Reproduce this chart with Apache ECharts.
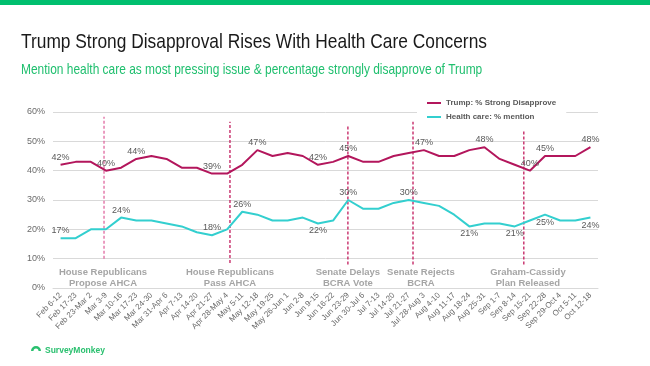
<!DOCTYPE html>
<html>
<head>
<meta charset="utf-8">
<script src="https://cdn.jsdelivr.net/npm/echarts@6/dist/echarts.min.js"></script>
<style>html,body{margin:0;padding:0;background:#fff}#c{width:650px;height:366px}</style>
</head>
<body>
<div id="c"></div>
<script>
var categories = ['Feb 6-12','Feb 17-23','Feb 23-Mar 2','Mar 3-9','Mar 10-16','Mar 17-23','Mar 24-30','Mar 31-Apr 6','Apr 7-13','Apr 14-20','Apr 21-27','Apr 28-May 4','May 5-11','May 12-18','May 19-25','May 26-Jun 1','Jun 2-8','Jun 9-15','Jun 16-22','Jun 23-29','Jun 30-Jul 6','Jul 7-13','Jul 14-20','Jul 21-27','Jul 28-Aug 3','Aug 4-10','Aug 11-17','Aug 18-24','Aug 25-31','Sep 1-7','Sep 8-14','Sep 15-21','Sep 22-28','Sep 29-Oct 4','Oct 5-11','Oct 12-18'];
var trumpValues = [42,43,43,40,41,44,45,44,41,41,39,39,42,47,45,46,45,42,43,45,43,43,45,46,47,45,45,47,48,44,42,40,45,45,45,48];
var healthValues = [17,17,20,20,24,23,23,22,21,19,18,20,26,25,23,23,24,22,23,30,27,27,29,30,29,28,25,21,22,22,21,23,25,23,23,24];
var trumpLabelIdx = [0,3,5,10,13,17,19,24,28,31,32,35];
var healthLabelAboveIdx = [0,4,10,12,19,23];
var healthLabelBelowIdx = [17,27,30,32,35];
var yTicks = [0,10,20,30,40,50,60];
var eventNames = ['House Republicans\nPropose AHCA','House Republicans\nPass AHCA','Senate Delays\nBCRA Vote','Senate Rejects\nBCRA','Graham-Cassidy\nPlan Released'];
var eventLinePos = [2.87, 11.19, 18.98, 23.28, 30.6];
var eventLabelPos = [2.8, 11.19, 18.98, 23.8, 30.87];
var eventLineTop = [58.4, 56.7, 55.6, 56.7, 53.9];
var eventLineBottom = [10, 8.5, 8, 8, 8];

var trumpColor = '#b3165c', healthColor = '#33cfcf', labelGray = '#595959';

function buildData(vals, above, below) {
  return vals.map(function (v, i) {
    var d = { value: v };
    if (above.indexOf(i) >= 0) d.label = { show: true, position: 'top' };
    else if (below && below.indexOf(i) >= 0) d.label = { show: true, position: 'bottom' };
    return d;
  });
}

var series = [
  {
    name: 'Trump: % Strong Disapprove', type: 'line', xAxisIndex: 0,
    data: buildData(trumpValues, trumpLabelIdx, []),
    symbol: 'circle', symbolSize: 0.01, showSymbol: true, showAllSymbol: true,
    lineStyle: { color: trumpColor, width: 2 }, itemStyle: { color: trumpColor },
    label: { show: false, formatter: '{c}%', color: labelGray, fontSize: 9, distance: 3, fontFamily: 'Liberation Sans' },
    z: 3
  },
  {
    name: 'Health care: % mention', type: 'line', xAxisIndex: 0,
    data: buildData(healthValues, healthLabelAboveIdx, healthLabelBelowIdx),
    symbol: 'circle', symbolSize: 0.01, showSymbol: true, showAllSymbol: true,
    lineStyle: { color: healthColor, width: 2 }, itemStyle: { color: healthColor },
    label: { show: false, formatter: '{c}%', color: labelGray, fontSize: 9, distance: 3, fontFamily: 'Liberation Sans' },
    z: 3
  }
];

eventLinePos.forEach(function (x, i) {
  series.push({
    type: 'line', xAxisIndex: 1, silent: true, symbol: 'none',
    data: [[x, eventLineBottom[i]], [x, eventLineTop[i]]],
    lineStyle: { color: i === 0 ? '#e0689f' : '#c21a5c', width: 1.3, type: [3, 2] },
    z: 2
  });
});

series.push({
  type: 'scatter', xAxisIndex: 1, silent: true, symbolSize: 0,
  data: eventLabelPos.map(function (x, i) { return { value: [x, 3.5], name: eventNames[i] }; }),
  label: {
    show: true, position: 'inside', formatter: '{b}', color: '#8f8f8f', fontWeight: 'bold',
    fontSize: 9.5, lineHeight: 11.5, align: 'center', verticalAlign: 'middle', fontFamily: 'Liberation Sans'
  },
  z: 4
});

var chart = echarts.init(document.getElementById('c'), null, { renderer: 'canvas' });
chart.setOption({
  backgroundColor: '#fff',
  animation: false,
  graphic: [
    { type: 'rect', left: 0, top: 0, shape: { width: 650, height: 5 }, style: { fill: '#00bf6f' } },
    { type: 'text', x: 21, y: 32, scaleX: 0.826, style: { text: 'Trump Strong Disapproval Rises With Health Care Concerns', fill: '#1a1a1a', font: '21px "Liberation Sans", Arial, sans-serif', verticalAlign: 'top', align: 'left' } },
    { type: 'text', x: 21, y: 62, scaleX: 0.823, style: { text: 'Mention health care as most pressing issue & percentage strongly disapprove of Trump', fill: '#1fbf6e', font: '14.5px "Liberation Sans", Arial, sans-serif', verticalAlign: 'top', align: 'left' } },
    { type: 'text', left: 45, top: 346, style: { text: 'SurveyMonkey', fill: '#2ac06f', font: 'bold 8.5px "Liberation Sans", Arial, sans-serif' } },
    { type: 'sector', shape: { cx: 36, cy: 351, r: 5, r0: 2.5, startAngle: Math.PI, endAngle: 2 * Math.PI }, style: { fill: '#2ac06f' } }
  ],
  legend: {
    orient: 'vertical', left: 417, top: 96, padding: [3, 10, 3, 10], itemGap: 6,
    backgroundColor: '#fff', icon: 'rect', itemWidth: 14, itemHeight: 2,
    data: ['Trump: % Strong Disapprove', 'Health care: % mention'],
    textStyle: { color: labelGray, fontSize: 8, fontWeight: 'bold', fontFamily: 'Liberation Sans' },
    z: 10
  },
  grid: { left: 53, right: 52, top: 112, bottom: 78 },
  xAxis: [
    {
      type: 'category', data: categories, boundaryGap: true,
      axisLine: { show: true, lineStyle: { color: '#d9d9d9', width: 1 } },
      axisTick: { show: false },
      axisLabel: { rotate: 45, interval: 0, color: '#6b6b6b', fontSize: 8, margin: 6, fontFamily: 'Liberation Sans' }
    },
    { type: 'value', min: -0.5, max: 35.5, show: false }
  ],
  yAxis: {
    type: 'value', min: 0, max: 60, interval: 10,
    axisLine: { show: false }, axisTick: { show: false },
    splitLine: { lineStyle: { color: '#d9d9d9', width: 1 } },
    axisLabel: { formatter: function (v) { return yTicks.indexOf(v) >= 0 ? v + '%' : ''; }, color: '#6b6b6b', fontSize: 9, margin: 8, fontFamily: 'Liberation Sans' }
  },
  series: series
});
</script>
</body>
</html>
